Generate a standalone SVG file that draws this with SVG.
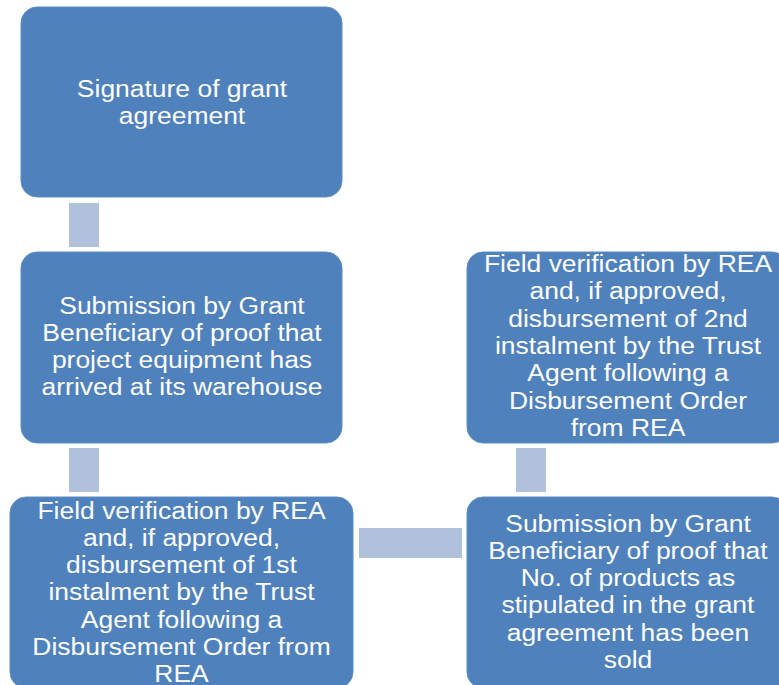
<svg xmlns="http://www.w3.org/2000/svg" width="779" height="685" viewBox="0 0 779 685">
<style>
.box{fill:#4F81BD;stroke:#5F8DC4;stroke-width:1}
.conn{fill:#B0C1DC}
text{font-family:"Liberation Sans",Arial,sans-serif;font-size:24.5px;fill:#FFFFFF;text-anchor:middle}
</style>
<rect width="779" height="685" fill="#FFFFFF"/>
<g id="connectors">
<rect class="conn" x="69" y="203" width="30" height="44"/>
<rect class="conn" x="69" y="448" width="30" height="44"/>
<rect class="conn" x="359" y="528" width="103" height="30"/>
<rect class="conn" x="516" y="448" width="30" height="44"/>
</g>
<g id="node1">
<rect class="box" x="21" y="7" width="321" height="190" rx="16"/>
<g transform="matrix(1.08,0,0,1,-14.56,0)">
<text x="182" y="97">Signature of grant</text>
<text x="182" y="124">agreement</text>
</g>
</g>
<g id="node2">
<rect class="box" x="21" y="252" width="321" height="191" rx="16"/>
<g transform="matrix(1.08,0,0,1,-14.56,0)">
<text x="182" y="314">Submission by Grant</text>
<text x="182" y="341">Beneficiary of proof that</text>
<text x="182" y="368">project equipment has</text>
<text x="182" y="395">arrived at its warehouse</text>
</g>
</g>
<g id="node3">
<rect class="box" x="10" y="497" width="343" height="191" rx="16"/>
<g transform="matrix(1.08,0,0,1,-14.52,0)">
<text x="181.5" y="519">Field verification by REA</text>
<text x="181.5" y="546">and, if approved,</text>
<text x="181.5" y="573">disbursement of 1st</text>
<text x="181.5" y="600">instalment by the Trust</text>
<text x="181.5" y="628">Agent following a</text>
<text x="181.5" y="655">Disbursement Order from</text>
<text x="181.5" y="682">REA</text>
</g>
</g>
<g id="node4">
<rect class="box" x="467" y="252" width="321" height="191" rx="16"/>
<g transform="matrix(1.08,0,0,1,-50.24,0)">
<text x="628" y="272">Field verification by REA</text>
<text x="628" y="299">and, if approved,</text>
<text x="628" y="327">disbursement of 2nd</text>
<text x="628" y="354">instalment by the Trust</text>
<text x="628" y="381">Agent following a</text>
<text x="628" y="409">Disbursement Order</text>
<text x="628" y="436">from REA</text>
</g>
</g>
<g id="node5">
<rect class="box" x="467" y="497" width="321" height="191" rx="16"/>
<g transform="matrix(1.08,0,0,1,-50.24,0)">
<text x="628" y="532">Submission by Grant</text>
<text x="628" y="559">Beneficiary of proof that</text>
<text x="628" y="586">No. of products as</text>
<text x="628" y="613">stipulated in the grant</text>
<text x="628" y="641">agreement has been</text>
<text x="628" y="668">sold</text>
</g>
</g>
</svg>
